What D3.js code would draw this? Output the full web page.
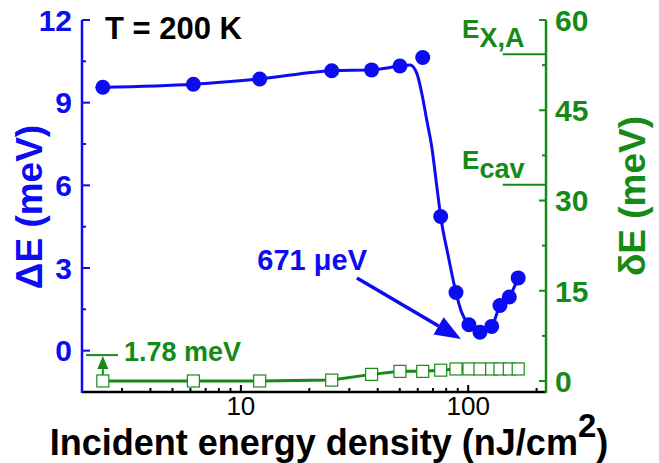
<!DOCTYPE html>
<html>
<head>
<meta charset="utf-8">
<script src="https://cdn.jsdelivr.net/npm/d3@7"></script>
<style>
  html, body { margin: 0; padding: 0; background: #fff; }
  svg { display: block; font-family: "Liberation Sans", Arial, Helvetica, sans-serif; }
</style>
</head>
<body>
<svg id="chart" width="659" height="463"></svg>
<script>
// Incident energy density (nJ/cm^2) of each measurement
const density = [2.47, 6.18, 12.1, 25.1, 37.6, 50.1, 63.1, 75.7, 88.4, 100.8, 112.7, 126.9, 138, 151.7, 166];
// Splitting ΔE (meV), left axis
const deltaE = [9.56, 9.67, 9.86, 10.16, 10.19, 10.33, 10.64, 4.87, 2.11, 0.94, 0.671, 0.88, 1.64, 1.95, 2.64];
// Linewidth δE (meV), right axis
const deltaLW = [0.0, 0.0, 0.0, 0.15, 1.1, 1.6, 1.6, 1.8, 2.0, 2.0, 2.0, 2.0, 2.0, 2.0, 2.0];
// Guide-to-the-eye curve through ΔE
const fitDensity = [2.47, 6.18, 12.1, 25.1, 37.6, 50.1, 55.5, 59.4, 62.5, 65.7, 69.1, 73.1, 75.7, 81.8, 88.4, 93.7, 100.8, 112.7, 126.9, 138, 151.7, 166];
const fitDE = [9.56, 9.67, 9.86, 10.16, 10.19, 10.33, 10.37, 10.07, 9.34, 8.38, 7.41, 5.84, 4.87, 3.42, 2.11, 1.38, 0.94, 0.671, 0.88, 1.64, 1.95, 2.64];
// Axis ticks
const leftMajor = [0, 3, 6, 9, 12];
const leftMinor = [1.5, 4.5, 7.5, 10.5];
const rightMajor = [0, 15, 30, 45, 60];
const rightMinor = [7.5, 22.5, 37.5, 52.5];
const xMajor = [10, 100];
const xMinor = [3, 4, 5, 6, 7, 8, 9, 20, 30, 40, 50, 60, 70, 80, 90, 200];
// Reference energies on the δE axis
const refLevels = [{name: "E", sub: "X,A", value: 54.3}, {name: "E", sub: "cav", value: 32.6}];

const BLUE = "#0c0cf2", GREEN = "#168a16";
const svg = d3.select("#chart");
const L = 82, R = 546, T = 20, B = 392;

const x = d3.scaleLog().domain([2, 220]).range([L, R]);
const yL = d3.scaleLinear().domain([-1.5, 12]).range([B, T]);
const yR = d3.scaleLinear().domain([-1.83, 60]).range([B, T]);

// Axis lines
svg.append("line").attr("x1", L).attr("x2", R).attr("y1", B).attr("y2", B)
  .attr("stroke", "#000").attr("stroke-width", 2.5);
svg.append("line").attr("x1", L).attr("x2", L).attr("y1", T).attr("y2", B + 1)
  .attr("stroke", BLUE).attr("stroke-width", 2.5);
svg.append("line").attr("x1", R).attr("x2", R).attr("y1", T).attr("y2", B + 1)
  .attr("stroke", GREEN).attr("stroke-width", 2.5);

// Left axis ticks (inward)
const gL = svg.append("g").attr("transform", `translate(${L},0)`);
gL.selectAll(".maj").data(leftMajor).join("line")
  .attr("x1", 0).attr("x2", 8).attr("y1", d => yL(d)).attr("y2", d => yL(d))
  .attr("stroke", BLUE).attr("stroke-width", 2);
gL.selectAll(".min").data(leftMinor).join("line")
  .attr("x1", 0).attr("x2", 4).attr("y1", d => yL(d)).attr("y2", d => yL(d))
  .attr("stroke", BLUE).attr("stroke-width", 2);
gL.selectAll("text").data(leftMajor).join("text")
  .attr("x", -10).attr("y", d => yL(d)).attr("dy", "0.36em")
  .attr("text-anchor", "end").attr("fill", BLUE)
  .attr("font-size", 30).attr("font-weight", "bold").text(d => d);

// Right axis ticks (inward)
const gR = svg.append("g").attr("transform", `translate(${R},0)`);
gR.selectAll(".maj").data(rightMajor).join("line")
  .attr("x1", 0).attr("x2", -7).attr("y1", d => yR(d)).attr("y2", d => yR(d))
  .attr("stroke", GREEN).attr("stroke-width", 2);
gR.selectAll(".min").data(rightMinor).join("line")
  .attr("x1", 0).attr("x2", -4).attr("y1", d => yR(d)).attr("y2", d => yR(d))
  .attr("stroke", GREEN).attr("stroke-width", 2);
gR.selectAll("text").data(rightMajor).join("text")
  .attr("x", 9).attr("y", d => yR(d)).attr("dy", "0.36em")
  .attr("text-anchor", "start").attr("fill", GREEN)
  .attr("font-size", 30).attr("font-weight", "bold").text(d => d);

// Bottom axis ticks (inward)
const gB = svg.append("g").attr("transform", `translate(0,${B})`);
gB.selectAll(".maj").data(xMajor).join("line")
  .attr("x1", d => x(d)).attr("x2", d => x(d)).attr("y1", 0).attr("y2", -7)
  .attr("stroke", "#000").attr("stroke-width", 2);
gB.selectAll(".min").data(xMinor).join("line")
  .attr("x1", d => x(d)).attr("x2", d => x(d)).attr("y1", 0).attr("y2", -4)
  .attr("stroke", "#000").attr("stroke-width", 2);
gB.selectAll("text").data(xMajor).join("text")
  .attr("x", d => x(d)).attr("y", 23)
  .attr("text-anchor", "middle").attr("fill", "#000")
  .attr("font-size", 26).text(d => d);

// Axis titles
svg.append("text").attr("transform", "translate(42,207) rotate(-90)")
  .attr("text-anchor", "middle").attr("fill", BLUE)
  .attr("font-size", 37).attr("font-weight", "bold").text("ΔE (meV)");
svg.append("text").attr("transform", "translate(645,196) rotate(-90)")
  .attr("text-anchor", "middle").attr("fill", GREEN)
  .attr("font-size", 37).attr("font-weight", "bold").text("δE (meV)");
const xt = svg.append("text").attr("x", 329).attr("y", 455)
  .attr("text-anchor", "middle").attr("fill", "#000")
  .attr("font-size", 36).attr("font-weight", "bold");
xt.append("tspan").text("Incident energy density (nJ/cm");
xt.append("tspan").attr("dy", -18).attr("font-size", 33).text("2");
xt.append("tspan").attr("dy", 18).text(")");

// Temperature label
svg.append("text").attr("x", 105).attr("y", 39).attr("fill", "#000")
  .attr("font-size", 31).attr("font-weight", "bold").text("T = 200 K");

// Reference energy levels on the right axis
refLevels.forEach(r => {
  svg.append("line").attr("x1", x(142)).attr("x2", R)
    .attr("y1", yR(r.value)).attr("y2", yR(r.value))
    .attr("stroke", GREEN).attr("stroke-width", 2);
  const t = svg.append("text").attr("x", x(94)).attr("y", yR(r.value) - 16)
    .attr("fill", GREEN).attr("font-size", 26).attr("font-weight", "bold");
  t.append("tspan").text(r.name);
  t.append("tspan").attr("dy", 9).attr("font-size", 27).text(r.sub);
});

// δE series: line + open squares
const lineR = d3.line().x((d, i) => x(density[i])).y(d => yR(d));
svg.append("path").datum(deltaLW).attr("d", lineR)
  .attr("fill", "none").attr("stroke", GREEN).attr("stroke-width", 3);
svg.selectAll(".sq").data(deltaLW).join("rect").attr("class", "sq")
  .attr("x", (d, i) => x(density[i]) - 6).attr("y", d => yR(d) - 6)
  .attr("width", 12).attr("height", 12)
  .attr("fill", "#fff").attr("stroke", GREEN).attr("stroke-width", 1.2);

// ΔE guide curve + filled circles
const fitLine = d3.line().curve(d3.curveMonotoneX)
  .x((d, i) => x(fitDensity[i])).y(d => yL(d));
svg.append("path").datum(fitDE).attr("d", fitLine)
  .attr("fill", "none").attr("stroke", BLUE).attr("stroke-width", 3);
svg.selectAll(".pt").data(deltaE).join("circle").attr("class", "pt")
  .attr("cx", (d, i) => x(density[i])).attr("cy", d => yL(d)).attr("r", 7.5)
  .attr("fill", BLUE);

// Minimum splitting annotation: arrow pointing at the dip
function arrow(x1, y1, x2, y2, len, half, color, width) {
  const a = Math.atan2(y2 - y1, x2 - x1);
  const bx = x2 - len * Math.cos(a), by = y2 - len * Math.sin(a);
  svg.append("line").attr("x1", x1).attr("y1", y1).attr("x2", bx).attr("y2", by)
    .attr("stroke", color).attr("stroke-width", width);
  const px = -Math.sin(a) * half, py = Math.cos(a) * half;
  svg.append("path")
    .attr("d", `M${x2},${y2} L${bx + px},${by + py} L${bx - px},${by - py} Z`)
    .attr("fill", color);
}
arrow(x(32.4), yL(2.64), x(93), yL(0.42), 26, 10, BLUE, 3.5);
svg.append("text").attr("x", 367).attr("y", 270).attr("text-anchor", "end")
  .attr("fill", BLUE).attr("font-size", 29).attr("font-weight", "bold").text("671 μeV");

// Linewidth offset annotation
const barY = yR(4.3);
svg.append("line").attr("x1", 86).attr("x2", 118).attr("y1", barY).attr("y2", barY)
  .attr("stroke", GREEN).attr("stroke-width", 2);
arrow(x(density[0]), yR(deltaLW[0]) - 6, x(density[0]), barY + 1, 13, 5.5, GREEN, 2);
svg.append("text").attr("x", 124).attr("y", 361).attr("fill", GREEN)
  .attr("font-size", 27).attr("font-weight", "bold").text("1.78 meV");
</script>
</body>
</html>
